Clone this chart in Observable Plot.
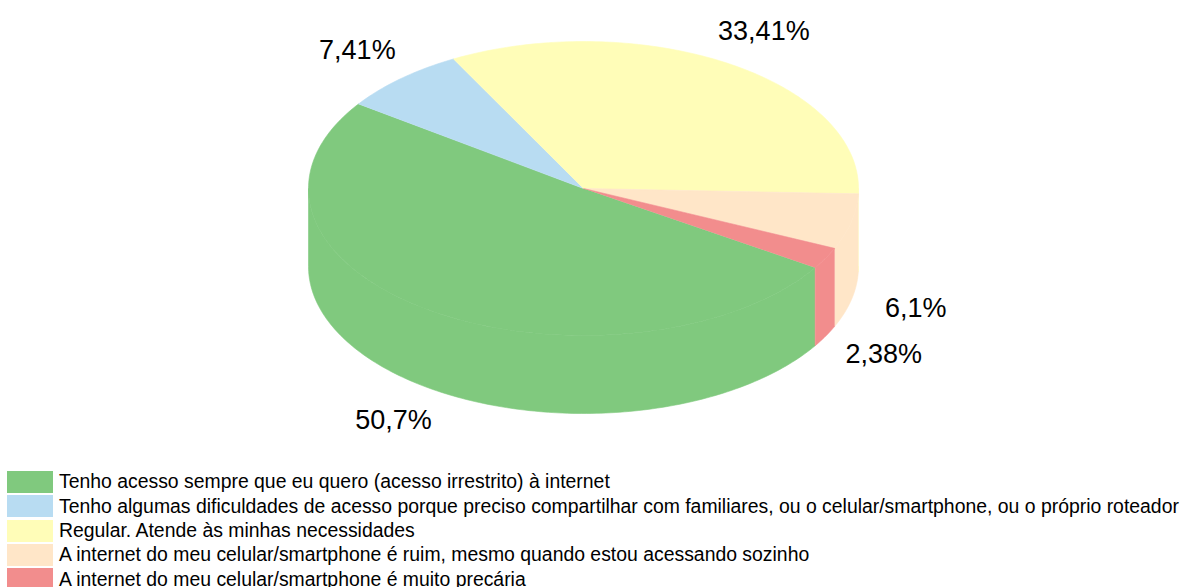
<!DOCTYPE html>
<html><head><meta charset="utf-8">
<script src="https://cdn.jsdelivr.net/npm/d3@7"></script>
<script src="https://cdn.jsdelivr.net/npm/@observablehq/plot@0.6"></script>
<style>
body{margin:0;background:#fff;width:1189px;height:587px;overflow:hidden;font-family:"Liberation Sans",Arial,sans-serif;position:relative;}
#chart{position:absolute;left:0;top:0;}
#legend{position:absolute;left:7px;top:470px;}
.row{display:flex;align-items:center;height:24.3px;}
.sw{width:46px;height:22px;margin-right:6px;flex:none;}
.lt{font-size:19.4px;color:#000;white-space:nowrap;line-height:1;}
</style></head><body><div id="chart"></div><div id="legend"></div>
<script>
const categories = [
  "Tenho acesso sempre que eu quero (acesso irrestrito) à internet",
  "Tenho algumas dificuldades de acesso porque preciso compartilhar com familiares, ou o celular/smartphone, ou o próprio roteador",
  "Regular. Atende às minhas necessidades",
  "A internet do meu celular/smartphone é ruim, mesmo quando estou acessando sozinho",
  "A internet do meu celular/smartphone é muito precária"
];
const shares = [50.7, 7.41, 33.41, 6.1, 2.38];
const labels = ["50,7%", "7,41%", "33,41%", "6,1%", "2,38%"];
const colors = ["#80C97E", "#B8DCF2", "#FFFDB8", "#FFE6C8", "#F28D8D"];

// layout
const W = 1189, H = 470, CX = 583, CY = 188, RX = 275, RY = 147, DEPTH = 78, START = 32.6, LX = 66, LY = 38;
const depth = DEPTH / RY;
const rad = d => d * Math.PI / 180;
const total = d3.sum(shares);
let acc = START;
const slices = shares.map((s, i) => { const a0 = acc; acc += s / total * 360; return {cat: categories[i], a0, a1: acc, label: labels[i]}; });

const tops = [], sides = [], labelData = [];
slices.forEach((s, i) => {
  const n = Math.max(2, Math.ceil(s.a1 - s.a0));
  tops.push({id: "t" + i, cat: s.cat, x: 0, y: 0});
  for (let k = 0; k <= n; k++) {
    const t = rad(s.a0 + (s.a1 - s.a0) * k / n);
    tops.push({id: "t" + i, cat: s.cat, x: Math.cos(t), y: -Math.sin(t)});
  }
  for (let base = 0; base <= 720; base += 360) {
    const b0 = Math.max(s.a0, base), b1 = Math.min(s.a1, base + 180);
    if (b1 > b0) {
      const m = Math.max(2, Math.ceil(b1 - b0));
      const id = "s" + i + "_" + base;
      const up = [], down = [];
      for (let k = 0; k <= m; k++) {
        const t = rad(b0 + (b1 - b0) * k / m);
        up.push({id, cat: s.cat, x: Math.cos(t), y: -Math.sin(t)});
        down.push({id, cat: s.cat, x: Math.cos(t), y: -Math.sin(t) - depth});
      }
      sides.push(...up, ...down.reverse());
    }
  }
  const mid = rad((s.a0 + s.a1) / 2);
  const sn = Math.sin(mid);
  labelData.push({
    text: s.label,
    x: (RX + LX) / RX * Math.cos(mid),
    y: -(RY + LY) / RY * sn - (sn > 0 ? depth : 0)
  });
});

const chart = Plot.plot({
  width: W, height: H, margin: 0,
  style: {background: "#fff", fontFamily: "Liberation Sans, Arial, sans-serif"},
  x: {domain: [-CX / RX, (W - CX) / RX], axis: null},
  y: {domain: [-(H - CY) / RY, CY / RY], axis: null},
  color: {domain: categories, range: colors},
  marks: [
    Plot.line(sides, {x: "x", y: "y", z: "id", fill: "cat", stroke: "cat", strokeWidth: 0.6, curve: "linear"}),
    Plot.line(tops, {x: "x", y: "y", z: "id", fill: "cat", stroke: "cat", strokeWidth: 0.6, curve: "linear"}),
    Plot.text(labelData, {x: "x", y: "y", text: "text", fontSize: 27, fill: "#000", fontFamily: "Liberation Sans, Arial, sans-serif"})
  ]
});
document.getElementById("chart").appendChild(chart);

const legend = document.getElementById("legend");
categories.forEach((c, i) => {
  const row = document.createElement("div");
  row.className = "row";
  const sw = document.createElement("div");
  sw.className = "sw";
  sw.style.background = colors[i];
  const t = document.createElement("span");
  t.className = "lt";
  t.textContent = c;
  row.appendChild(sw); row.appendChild(t);
  legend.appendChild(row);
});
</script>
</body></html>
